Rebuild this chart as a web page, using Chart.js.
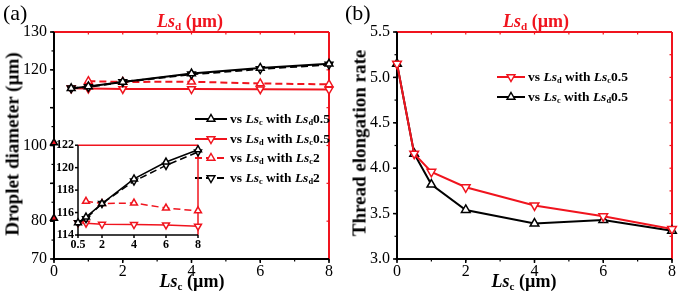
<!DOCTYPE html>
<html>
<head>
<meta charset="utf-8">
<script src="https://cdn.jsdelivr.net/npm/chart.js@4.4.0/dist/chart.umd.min.js"></script>
<style>
  html, body { margin: 0; padding: 0; background: #fff; }
  #wrap { position: relative; width: 680px; height: 301px; overflow: hidden;
          font-family: "Liberation Serif", "Times New Roman", serif; }
  canvas { position: absolute; }
  .t { position: absolute; white-space: nowrap; font-weight: bold; color: #000; line-height: 1; }
  .t i { font-style: italic; }
  .t sub { font-size: 0.62em; vertical-align: baseline; position: relative; top: 0.28em; }
  .red { color: #f0141e; }
  .lg { font-size: 13.5px; }
  .ctr { transform: translateX(-50%); }
  .rot { transform: translate(-50%, -50%) rotate(-90deg); }
</style>
</head>
<body>
<div id="wrap">
  <canvas id="chartA" width="340" height="301" style="left:0;top:0"></canvas>
  <canvas id="inset" width="150" height="122" style="left:56px;top:134px"></canvas>
  <canvas id="chartB" width="340" height="301" style="left:340px;top:0"></canvas>

  <div class="t" style="left:3px;top:2px;font-size:22px;font-weight:normal">(a)</div>
  <div class="t" style="left:345px;top:2px;font-size:22px;font-weight:normal">(b)</div>

  <div class="t red ctr" style="left:190px;top:12px;font-size:18px"><i>Ls</i><sub>d</sub> (µm)</div>
  <div class="t red ctr" style="left:536px;top:12px;font-size:18px"><i>Ls</i><sub>d</sub> (µm)</div>

  <div class="t ctr" style="left:192px;top:272px;font-size:18px"><i>Ls</i><sub>c</sub> (µm)</div>
  <div class="t ctr" style="left:524px;top:272px;font-size:18px"><i>Ls</i><sub>c</sub> (µm)</div>

  <div class="t rot" style="left:12px;top:144px;font-size:19px">Droplet diameter (µm)</div>
  <div class="t rot" style="left:359px;top:143px;font-size:19px">Thread elongation rate</div>

  <!-- legend (a) -->
  <div class="t lg" style="left:230px;top:112px">vs <i>Ls</i><sub>c</sub> with <i>Ls</i><sub>d</sub>0.5</div>
  <div class="t lg" style="left:230px;top:132px">vs <i>Ls</i><sub>d</sub> with <i>Ls</i><sub>c</sub>0.5</div>
  <div class="t lg" style="left:230px;top:151px">vs <i>Ls</i><sub>d</sub> with <i>Ls</i><sub>c</sub>2</div>
  <div class="t lg" style="left:230px;top:171px">vs <i>Ls</i><sub>c</sub> with <i>Ls</i><sub>d</sub>2</div>
  <!-- legend (b) -->
  <div class="t lg" style="left:528px;top:70px">vs <i>Ls</i><sub>d</sub> with <i>Ls</i><sub>c</sub>0.5</div>
  <div class="t lg" style="left:528px;top:90px">vs <i>Ls</i><sub>c</sub> with <i>Ls</i><sub>d</sub>0.5</div>
</div>

<script>
const RED = '#f0141e';
const BLK = '#000000';
const SERIF = '"Liberation Serif", "Times New Roman", serif';

// ── Panel (a): droplet diameter (µm) ─────────────────────────────────────
const lsMain      = [0.5, 1, 2, 4, 6, 8];
const lsFromOne   = [1, 2, 4, 6, 8];
const diaLscLsd05 = [115.1, 115.6, 116.8, 119.0, 120.5, 121.6];   // vs Lsc with Lsd 0.5
const diaLsdLsc05 = [115.1, 115.05, 114.95, 114.93, 114.9, 114.78]; // vs Lsd with Lsc 0.5
const diaLsdLsc2  = [117.0, 116.8, 116.85, 116.4, 116.15];         // vs Lsd with Lsc 2
const diaLscLsd2  = [115.1, 115.45, 116.8, 118.8, 120.2, 121.4];   // vs Lsc with Lsd 2
const strayX      = [0, 0];
const strayY      = [100.7, 80.75];
const diaLabelsA  = [70, 80, 100, 120, 130];   // labels printed on the left axis
const insetTicksX = [0.5, 2, 4, 6, 8];

// ── Panel (b): thread elongation rate ────────────────────────────────────
const lsB           = [0, 0.5, 1, 2, 4, 6, 8];
const rateLsdLsc05  = [5.15, 4.16, 3.96, 3.79, 3.59, 3.47, 3.33];
const rateLscLsd05  = [5.15, 4.16, 3.82, 3.54, 3.39, 3.43, 3.31];

function series(xs, ys, color, down, dashed, lw, r) {
  return {
    data: xs.map((x, i) => ({ x, y: ys[i] })),
    borderColor: color,
    borderWidth: lw,
    borderDash: dashed ? [7, 4] : [],
    pointStyle: 'triangle',
    pointRotation: down ? 180 : 0,
    pointRadius: r,
    pointBorderWidth: 1.5,
    pointBorderColor: color,
    pointBackgroundColor: '#fff',
    tension: 0,
    clip: false,
  };
}

function tri(ctx, x, y, r, down, color) {
  const s = down ? -1 : 1;
  ctx.beginPath();
  ctx.moveTo(x, y - s * r);
  ctx.lineTo(x + r * 0.866, y + s * r * 0.5);
  ctx.lineTo(x - r * 0.866, y + s * r * 0.5);
  ctx.closePath();
  ctx.fillStyle = '#fff';
  ctx.fill();
  ctx.lineWidth = 1.5;
  ctx.strokeStyle = color;
  ctx.stroke();
}

// draws the box frame: black left/bottom, red top/right, with ticks
const framePlugin = {
  id: 'frame',
  beforeDatasetsDraw(chart, args, o) {
    const { ctx, chartArea: a, scales: { x, y } } = chart;
    const steps = (sc, step) => {
      const out = [];
      const n = Math.round((sc.max - sc.min) / step);
      for (let i = 0; i <= n; i++) out.push(sc.min + i * step);
      return out;
    };
    const seg = (x1, y1, x2, y2, c, w) => {
      ctx.beginPath(); ctx.moveTo(x1, y1); ctx.lineTo(x2, y2);
      ctx.strokeStyle = c; ctx.lineWidth = w; ctx.stroke();
    };
    ctx.save();
    const L = o.major, l = o.minor, w = o.lw;
    // red top & right
    seg(a.left, a.top, a.right, a.top, RED, w);
    seg(a.right, a.top, a.right, a.bottom, RED, w);
    if (o.topStep) steps(x, o.topStep).forEach(v => {
      const px = x.getPixelForValue(v); seg(px, a.top, px, a.top + l, RED, 1.2);
    });
    if (o.rightStep) steps(y, o.rightStep).forEach(v => {
      const py = y.getPixelForValue(v); seg(a.right, py, a.right - l, py, RED, 1.2);
    });
    // black left & bottom
    seg(a.left, a.top, a.left, a.bottom + w / 2, BLK, w);
    seg(a.left - w / 2, a.bottom, a.right, a.bottom, BLK, w);
    x.ticks.forEach(t => {
      const px = x.getPixelForValue(t.value); seg(px, a.bottom, px, a.bottom + L, BLK, 1.5);
    });
    y.ticks.forEach(t => {
      const py = y.getPixelForValue(t.value); seg(a.left, py, a.left - L, py, BLK, 1.5);
    });
    if (o.xMinor) steps(x, o.xMinor).forEach(v => {
      const px = x.getPixelForValue(v); seg(px, a.bottom, px, a.bottom + l, BLK, 1.2);
    });
    if (o.yMinor) steps(y, o.yMinor).forEach(v => {
      const py = y.getPixelForValue(v); seg(a.left, py, a.left - l, py, BLK, 1.2);
    });
    ctx.restore();
  },
  afterDraw(chart, args, o) {
    if (!o.legend) return;
    const ctx = chart.ctx;
    ctx.save();
    o.legend.forEach(e => {
      ctx.beginPath();
      ctx.setLineDash(e.dashed ? [7, 4] : []);
      ctx.moveTo(e.x1, e.y); ctx.lineTo(e.x2, e.y);
      ctx.strokeStyle = e.color; ctx.lineWidth = 2; ctx.stroke();
      ctx.setLineDash([]);
      tri(ctx, (e.x1 + e.x2) / 2, e.y, 4.5, e.down, e.color);
    });
    ctx.restore();
  },
};

function axis(min, max, fitKey, fitVal, tickOpts) {
  return {
    type: 'linear', min, max,
    afterFit: s => { s[fitKey] = fitVal; },
    grid: { display: false, drawTicks: false },
    border: { display: false },
    ticks: Object.assign({ color: BLK, font: { family: SERIF, size: 16 } }, tickOpts),
  };
}

const base = {
  responsive: false,
  animation: false,
  events: [],
  plugins: { legend: { display: false }, tooltip: { enabled: false } },
};

// ── chart (a) ──
new Chart(document.getElementById('chartA'), {
  type: 'line',
  data: {
    datasets: [
      series(lsMain, diaLscLsd05, BLK, false, false, 2, 4.5),
      series(lsMain, diaLscLsd2, BLK, true, true, 2, 4.5),
      series(lsMain, diaLsdLsc05, RED, true, false, 2, 4.5),
      series(lsFromOne, diaLsdLsc2, RED, false, true, 2, 4.5),
      Object.assign(series(strayX, strayY, BLK, false, false, 0, 4), {
        showLine: false, pointBackgroundColor: RED,
      }),
    ],
  },
  options: Object.assign({}, base, {
    layout: { autoPadding: false, padding: { left: 0, top: 32, right: 11, bottom: 18 } },
    scales: {
      x: axis(0, 8, 'height', 24, { stepSize: 2, padding: 3 }),
      y: axis(70, 130, 'width', 54, {
        stepSize: 10, padding: 7,
        callback: v => diaLabelsA.includes(v) ? String(v) : '',
      }),
    },
    plugins: Object.assign({}, base.plugins, {
      frame: {
        major: 4, minor: 2.5, lw: 2, xMinor: 1, yMinor: 5, topStep: 1, rightStep: 10,
        legend: [
          { x1: 195, x2: 227, y: 119, color: BLK, down: false, dashed: false },
          { x1: 195, x2: 227, y: 139, color: RED, down: true, dashed: false },
          { x1: 195, x2: 227, y: 158, color: RED, down: false, dashed: true },
          { x1: 195, x2: 227, y: 178, color: BLK, down: true, dashed: true },
        ],
      },
    }),
  }),
  plugins: [framePlugin],
});

// ── inset of (a) ──
new Chart(document.getElementById('inset'), {
  type: 'line',
  data: {
    datasets: [
      series(lsMain, diaLscLsd05, BLK, false, false, 1.5, 4),
      series(lsMain, diaLscLsd2, BLK, true, true, 1.5, 4),
      series(lsMain, diaLsdLsc05, RED, true, false, 1.5, 4),
      series(lsFromOne, diaLsdLsc2, RED, false, true, 1.5, 4),
    ],
  },
  options: Object.assign({}, base, {
    layout: { autoPadding: false, padding: { left: 0, top: 7, right: 8, bottom: 6 } },
    scales: {
      x: Object.assign(axis(0.5, 8, 'height', 15, {
        padding: 3, font: { family: SERIF, size: 12, weight: 'bold' },
      }), { afterBuildTicks: s => { s.ticks = insetTicksX.map(v => ({ value: v })); } }),
      y: axis(114, 122, 'width', 22, {
        stepSize: 2, padding: 4, font: { family: SERIF, size: 12, weight: 'bold' },
      }),
    },
    plugins: Object.assign({}, base.plugins, {
      frame: { major: 3, minor: 2, lw: 1.5 },
    }),
  }),
  plugins: [framePlugin],
});

// ── chart (b) ──
new Chart(document.getElementById('chartB'), {
  type: 'line',
  data: {
    datasets: [
      series(lsB, rateLsdLsc05, RED, true, false, 2, 5),
      series(lsB, rateLscLsd05, BLK, false, false, 2, 5),
    ],
  },
  options: Object.assign({}, base, {
    layout: { autoPadding: false, padding: { left: 0, top: 32, right: 8, bottom: 18 } },
    scales: {
      x: axis(0, 8, 'height', 24, { stepSize: 2, padding: 3 }),
      y: axis(3, 5.5, 'width', 57, {
        stepSize: 0.5, padding: 7, callback: v => v.toFixed(1),
      }),
    },
    plugins: Object.assign({}, base.plugins, {
      frame: {
        major: 4, minor: 2.5, lw: 2, xMinor: 1, yMinor: 0.25, topStep: 1, rightStep: 0.25,
        legend: [
          { x1: 157, x2: 185, y: 77, color: RED, down: true, dashed: false },
          { x1: 157, x2: 185, y: 97, color: BLK, down: false, dashed: false },
        ],
      },
    }),
  }),
  plugins: [framePlugin],
});
</script>
</body>
</html>
